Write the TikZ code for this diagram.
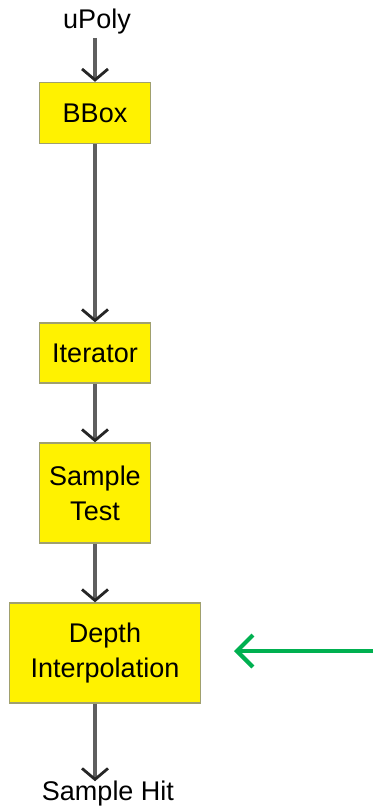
\documentclass[tikz,border=0pt]{standalone}
\usepackage{fontspec}
\setmainfont{Liberation Sans}
\usetikzlibrary{arrows.meta}
\definecolor{boxedge}{RGB}{160,160,110}
\definecolor{flowline}{RGB}{95,95,95}
\definecolor{mark}{RGB}{0,176,80}
\begin{document}
\begin{tikzpicture}[x=1pt,y=-1pt,
  stage/.style={draw=boxedge,line width=1.4pt,fill=yellow,inner sep=0pt,
    align=center,font=\fontsize{27}{35}\selectfont},
  label/.style={inner sep=0pt,font=\fontsize{27}{35}\selectfont},
  flow/.style={draw=flowline,line width=3.4pt,
    -{Straight Barb[length=11pt,width=26pt,line width=2.8pt,color=black!85]}},
  pointer/.style={draw=mark,line width=4.2pt,
    -{Straight Barb[length=16pt,width=32pt,line width=4.2pt]}}]
  \useasboundingbox (0,0) rectangle (373,810);

  \node[label] (in) at (97,22) {uPoly};
  \node[stage,minimum width=111pt,minimum height=61pt] (bbox) at (95,113) {BBox};
  \node[stage,minimum width=111pt,minimum height=60pt] (iter) at (95,353) {Iterator};
  \node[stage,minimum width=111pt,minimum height=100pt] (test) at (95,493) {Sample\\Test};
  \node[stage,minimum width=191pt,minimum height=100pt] (depth) at (105,653) {Depth\\Interpolation};
  \node[label] (out) at (108,794) {Sample Hit};

  \coordinate (src) at (373,651);
  \coordinate (tip) at (234,651);

  \draw[flow] (in.south -| bbox.north) ++(0,3) -- (bbox.north);
  \draw[flow] (bbox.south) -- (iter.north);
  \draw[flow] (iter.south) -- (test.north);
  \draw[flow] (test.south) -- (test.south |- depth.north);
  \draw[flow] (test.south |- depth.south) -- (test.south |- out.north);
  \draw[pointer] (src) -- (tip);
\end{tikzpicture}
\end{document}
